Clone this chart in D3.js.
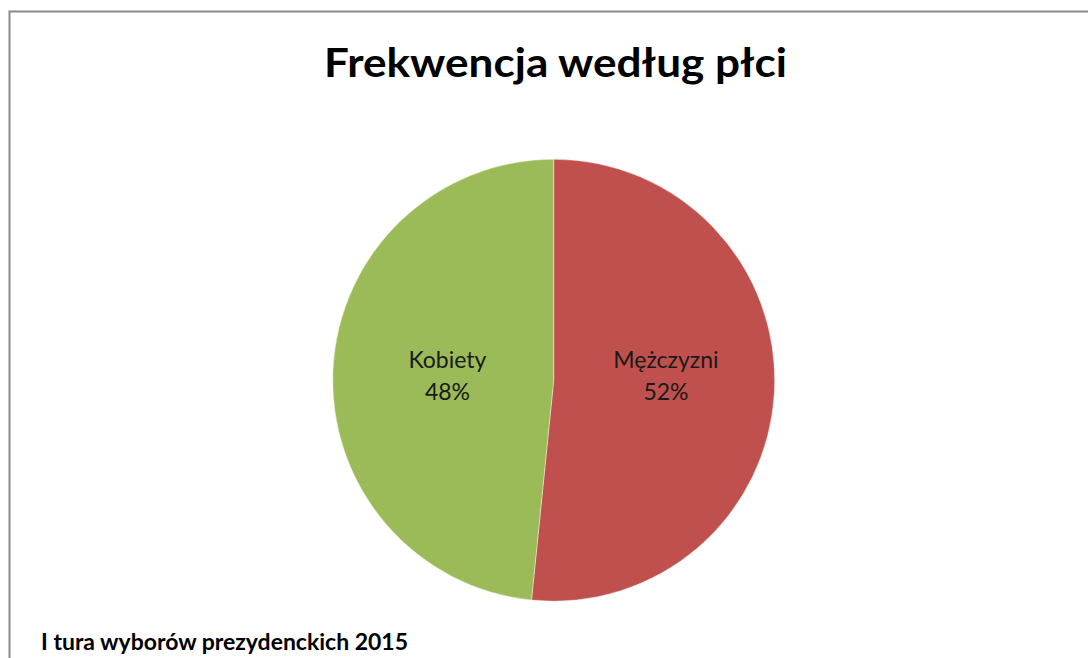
<!DOCTYPE html>
<html>
<head>
<meta charset="utf-8">
<script src="https://cdn.jsdelivr.net/npm/d3@7"></script>
<style>
  html, body { margin: 0; padding: 0; background: #fff; }
  svg { display: block; }
</style>
</head>
<body>
<svg id="chart" width="1088" height="658"></svg>
<script>
const categories = ["Mężczyzni", "Kobiety"];
const values = [51.6, 48.4];
const colors = ["#C0504D", "#9BBB59"];
const titleText = "Frekwencja według płci";
const footerText = "I tura wyborów prezydenckich 2015";

const W = 1088, H = 658;
const svg = d3.select("#chart");

// outer frame (extends beyond right/bottom edges)
svg.append("rect")
  .attr("x", 9.5).attr("y", 11.5)
  .attr("width", W + 20).attr("height", H + 20)
  .attr("fill", "none")
  .attr("stroke", "#8a8a8a")
  .attr("stroke-width", 2);

// title
svg.append("text")
  .attr("x", 555.5).attr("y", 77)
  .attr("text-anchor", "middle")
  .attr("font-family", "Lato, 'Open Sans', sans-serif")
  .attr("font-weight", "bold")
  .attr("font-size", 40)
  .attr("fill", "#000")
  .attr("textLength", 463)
  .attr("lengthAdjust", "spacingAndGlyphs")
  .text(titleText);

const cx = 553.7, cy = 380.2, r = 221;
const data = categories.map((c, i) => ({ name: c, value: values[i], color: colors[i] }));
const pie = d3.pie().sort(null).value(d => d.value);
const arcs = pie(data);
const arc = d3.arc().innerRadius(0).outerRadius(r);
const labelArc = d3.arc().innerRadius(r * 0.495).outerRadius(r * 0.495);
const total = d3.sum(values);

const g = svg.append("g").attr("transform", `translate(${cx},${cy})`);
g.selectAll("path.slice")
  .data(arcs)
  .join("path")
  .attr("class", "slice")
  .attr("d", arc)
  .attr("fill", d => d.data.color)
  .attr("stroke", "#fff")
  .attr("stroke-width", 0.4);

const lbl = g.selectAll("text.lbl")
  .data(arcs)
  .join("text")
  .attr("class", "lbl")
  .attr("text-anchor", "middle")
  .attr("font-family", "Lato, 'Open Sans', sans-serif")
  .attr("font-size", 23)
  .attr("fill", "#1a1a1a")
  .attr("transform", d => {
    const [x] = labelArc.centroid(d);
    return `translate(${x + (x > 0 ? 3 : 3)},0)`;
  });
lbl.append("tspan")
  .attr("x", 0).attr("y", -12)
  .text(d => d.data.name);
lbl.append("tspan")
  .attr("x", 0).attr("y", 20)
  .text(d => Math.round(d.data.value / total * 100) + "%");

// footer
svg.append("text")
  .attr("x", 41).attr("y", 650)
  .attr("font-family", "Lato, 'Open Sans', sans-serif")
  .attr("font-weight", "bold")
  .attr("font-size", 22)
  .attr("fill", "#000")
  .attr("textLength", 367)
  .attr("lengthAdjust", "spacingAndGlyphs")
  .text(footerText);
</script>
</body>
</html>
